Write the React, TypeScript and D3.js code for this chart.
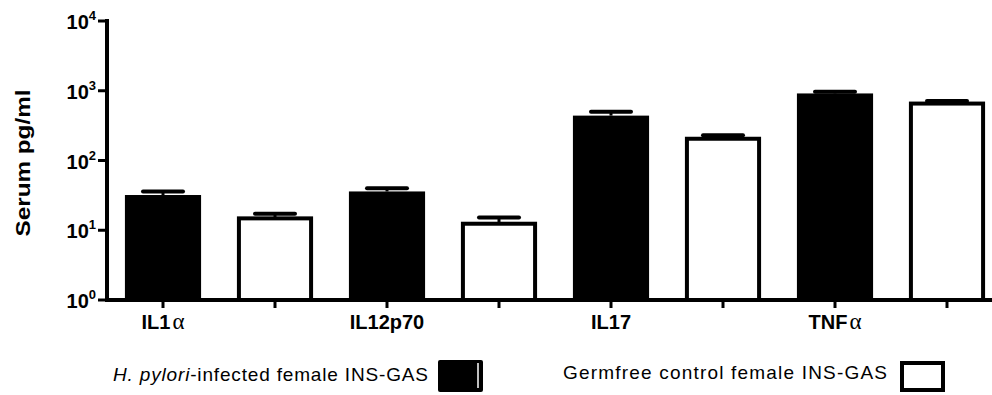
import React from "react";
import * as d3 from "d3";

// cytokine panel, serum levels (log scale)
const categories = ["IL1α", "IL12p70", "IL17", "TNFα"];
const seriesNames = ["H. pylori-infected female INS-GAS", "Germfree control female INS-GAS"];
const infectedMean = [32, 36, 440, 915];
const infectedSem = [4, 4, 60, 50];
const germfreeMean = [14.8, 12.4, 205, 655];
const germfreeSem = [2.5, 2.8, 25, 55];
const yTicks = [1, 10, 100, 1000, 10000];

const FONT = "'Liberation Sans', Arial, sans-serif";

function drawChart(svgRef: React.RefObject<SVGSVGElement | null>) {
  const svg = d3.select(svgRef.current);
  svg.selectAll("*").remove();

  const left = 107;
  const bottom = 300;

  const y = d3.scaleLog().domain([1, 10000]).range([bottom, 21]);
  const x0 = d3.scaleBand().domain(categories).range([left, 1003]).padding(0);
  const x1 = d3
    .scaleBand()
    .domain(["infected", "germfree"])
    .range([0, x0.bandwidth()])
    .paddingInner(0.32)
    .paddingOuter(0.16);

  const rows = categories.flatMap((c, i) => [
    { cat: c, key: "infected", mean: infectedMean[i], sem: infectedSem[i] },
    { cat: c, key: "germfree", mean: germfreeMean[i], sem: germfreeSem[i] },
  ]);

  const bx = (d: any) => x0(d.cat)! + x1(d.key)!;
  const bw = x1.bandwidth();

  const g = svg.append("g");

  // error bars (upper only)
  rows.forEach((d) => {
    const cx = bx(d) + bw / 2;
    g.append("line")
      .attr("x1", cx).attr("x2", cx)
      .attr("y1", y(d.mean)).attr("y2", y(d.mean + d.sem))
      .attr("stroke", "#000").attr("stroke-width", 3);
    g.append("line")
      .attr("x1", cx - 20).attr("x2", cx + 20)
      .attr("y1", y(d.mean + d.sem)).attr("y2", y(d.mean + d.sem))
      .attr("stroke", "#000").attr("stroke-width", 4)
      .attr("stroke-linecap", "round");
  });

  // bars
  g.selectAll("rect.bar")
    .data(rows)
    .enter()
    .append("rect")
    .attr("class", "bar")
    .attr("x", (d) => (d.key === "infected" ? bx(d) : bx(d) + 2))
    .attr("width", (d) => (d.key === "infected" ? bw : bw - 4))
    .attr("y", (d) => y(d.mean))
    .attr("height", (d) => bottom - y(d.mean))
    .attr("fill", (d) => (d.key === "infected" ? "#000" : "#fff"))
    .attr("stroke", "#000")
    .attr("stroke-width", (d) => (d.key === "infected" ? 0 : 4));

  // x axis
  g.append("line")
    .attr("x1", left - 2).attr("x2", 992)
    .attr("y1", bottom).attr("y2", bottom)
    .attr("stroke", "#000").attr("stroke-width", 4);
  rows.forEach((d) => {
    const cx = bx(d) + bw / 2;
    g.append("line")
      .attr("x1", cx).attr("x2", cx)
      .attr("y1", bottom).attr("y2", bottom + 8)
      .attr("stroke", "#000").attr("stroke-width", 3);
  });
  categories.forEach((c) => {
    const cx = x0(c)! + x1("infected")! + bw / 2;
    const t = g.append("text")
      .attr("x", cx).attr("y", 329)
      .attr("text-anchor", "middle")
      .attr("font-family", FONT).attr("font-weight", "bold")
      .attr("font-size", 20);
    if (c.endsWith("α")) {
      t.append("tspan").text(c.slice(0, -1));
      t.append("tspan")
        .attr("font-family", "'Liberation Serif', serif")
        .attr("font-weight", "normal")
        .attr("font-size", 23)
        .attr("dx", 2)
        .text("α");
    } else {
      t.text(c);
    }
  });

  // y axis
  g.append("line")
    .attr("x1", left).attr("x2", left)
    .attr("y1", 19).attr("y2", bottom + 2)
    .attr("stroke", "#000").attr("stroke-width", 4);
  yTicks.forEach((v) => {
    g.append("line")
      .attr("x1", left - 9).attr("x2", left)
      .attr("y1", y(v)).attr("y2", y(v))
      .attr("stroke", "#000").attr("stroke-width", 3);
    const t = g.append("text")
      .attr("x", 96).attr("y", y(v) + 8)
      .attr("text-anchor", "end")
      .attr("font-family", FONT).attr("font-weight", "bold")
      .attr("font-size", 20);
    t.append("tspan").text("10");
    t.append("tspan")
      .attr("font-size", 13)
      .attr("dy", -9)
      .text(String(Math.round(Math.log10(v))));
  });

  g.append("text")
    .attr("transform", "translate(30,163) rotate(-90)")
    .attr("text-anchor", "middle")
    .attr("font-family", FONT).attr("font-weight", "bold")
    .attr("font-size", 20)
    .attr("textLength", 147)
    .attr("lengthAdjust", "spacingAndGlyphs")
    .text("Serum pg/ml");

  // legend
  const l1 = g.append("text")
    .attr("x", 113).attr("y", 381)
    .attr("font-family", FONT).attr("font-size", 19)
    .attr("textLength", 315)
    .attr("lengthAdjust", "spacing");
  l1.append("tspan").attr("font-style", "italic").text("H. pylori");
  l1.append("tspan").text(seriesNames[0].replace("H. pylori", ""));
  g.append("rect")
    .attr("x", 438).attr("y", 360).attr("width", 45).attr("height", 32)
    .attr("rx", 2).attr("fill", "#000");
  g.append("line")
    .attr("x1", 478).attr("x2", 478).attr("y1", 363).attr("y2", 388)
    .attr("stroke", "#fff").attr("stroke-width", 1.5);

  g.append("text")
    .attr("x", 563).attr("y", 379)
    .attr("font-family", FONT).attr("font-size", 19)
    .attr("textLength", 324)
    .attr("lengthAdjust", "spacing")
    .text(seriesNames[1]);
  g.append("rect")
    .attr("x", 902).attr("y", 363).attr("width", 41).attr("height", 27)
    .attr("fill", "#fff").attr("stroke", "#000").attr("stroke-width", 4);
}

export default function App() {
  const svg = React.useRef<SVGSVGElement>(null);

  React.useEffect(() => {
    drawChart(svg);
  }, []);

  return (
    <svg
      ref={svg}
      width={992}
      height={395}
      style={{ position: "absolute", left: 0, top: 0, background: "#fff" }}
    />
  );
}
